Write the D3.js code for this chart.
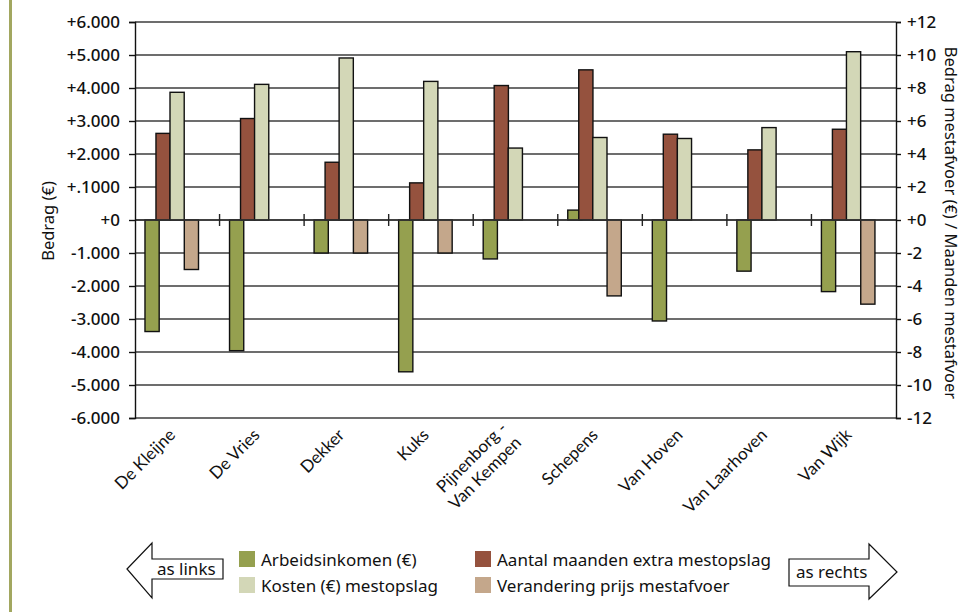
<!DOCTYPE html>
<html>
<head>
<meta charset="utf-8">
<script src="https://cdn.jsdelivr.net/npm/d3@7"></script>
<style>
  html, body { margin: 0; padding: 0; background: #fff; }
  svg { display: block; }
</style>
</head>
<body>
<svg id="chart" width="961" height="612"></svg>
<script>
// ---------------- DATA ----------------
const categories = ["De Kleijne", "De Vries", "Dekker", "Kuks", "Pijnenborg -\nVan Kempen",
                    "Schepens", "Van Hoven", "Van Laarhoven", "Van Wijk"];
const arbeidsinkomen = [-3380, -3960, -1000, -4600, -1180, 300, -3060, -1550, -2170]; // left axis (€)
const kosten         = [3870, 4110, 4910, 4200, 2180, 2500, 2470, 2800, 5100];       // left axis (€)
const maanden        = [5.25, 6.15, 3.5, 2.25, 8.15, 9.1, 5.2, 4.25, 5.5];            // right axis
const prijs          = [-3, 0, -2, -2, 0, -4.6, 0, 0, -5.1];                          // right axis
const leftTicks  = [-6000, -5000, -4000, -3000, -2000, -1000, 0, 1000, 2000, 3000, 4000, 5000, 6000];
const leftLabels = ["-6.000", "-5.000", "-4.000", "-3.000", "-2.000", "-1.000", "+0",
                    "+.1000", "+2.000", "+3.000", "+4.000", "+5.000", "+6.000"];
const rightTicks  = [-12, -10, -8, -6, -4, -2, 0, 2, 4, 6, 8, 10, 12];
const rightLabels = ["-12", "-10", "-8", "-6", "-4", "-2", "+0", "+2", "+4", "+6", "+8", "+10", "+12"];
const seriesNames = ["Arbeidsinkomen (€)", "Aantal maanden extra mestopslag",
                     "Kosten (€) mestopslag", "Verandering prijs mestafvoer"];

// ---------------- STYLE / LAYOUT ----------------
const W = 961, H = 612;
const plot = { left: 135, right: 896, top: 22, bottom: 418 };
const colors = { green: "#95a04f", brown: "#95523e", light: "#d3d7b7", tan: "#c4a78b" };
const font = "'Noto Sans', 'Open Sans', sans-serif";
const xFont = "Lato, 'Open Sans', sans-serif";

const svg = d3.select("#chart");
svg.append("rect").attr("width", W).attr("height", H).attr("fill", "#fff");

// page decoration line at left
svg.append("line").attr("x1", 10.5).attr("x2", 10.5).attr("y1", 0).attr("y2", H)
  .attr("stroke", "#a2a760").attr("stroke-width", 3);

const x = d3.scaleBand().domain(categories).range([plot.left, plot.right]).padding(0);
const yL = d3.scaleLinear().domain([-6000, 6000]).range([plot.bottom, plot.top]);
const yR = d3.scaleLinear().domain([-12, 12]).range([plot.bottom, plot.top]);

// gridlines
svg.append("g").selectAll("line").data(leftTicks).join("line")
  .attr("x1", plot.left).attr("x2", plot.right)
  .attr("y1", d => yL(d)).attr("y2", d => yL(d))
  .attr("stroke", "#3c3c3c").attr("stroke-width", 1.3);

// series definitions (offset & width as fraction of category band)
const series = [
  { values: arbeidsinkomen, scale: yL, color: colors.green, off: 0.118 },
  { values: maanden,        scale: yR, color: colors.brown, off: 0.248 },
  { values: kosten,         scale: yL, color: colors.light, off: 0.414 },
  { values: prijs,          scale: yR, color: colors.tan,   off: 0.583 }
];
const barFrac = 0.168;

series.forEach(s => {
  const data = categories.map((c, i) => ({ c, v: s.values[i] })).filter(d => d.v !== 0);
  svg.append("g").selectAll("rect").data(data).join("rect")
    .attr("x", d => x(d.c) + x.bandwidth() * s.off)
    .attr("width", x.bandwidth() * barFrac)
    .attr("y", d => Math.min(s.scale(d.v), s.scale(0)))
    .attr("height", d => Math.abs(s.scale(d.v) - s.scale(0)))
    .attr("fill", s.color)
    .attr("stroke", "#111").attr("stroke-width", 1.4);
});

// zero line with cross ticks at category boundaries
svg.append("line").attr("x1", plot.left).attr("x2", plot.right)
  .attr("y1", yL(0)).attr("y2", yL(0)).attr("stroke", "#333").attr("stroke-width", 1.4);
svg.append("g").selectAll("line").data(categories.slice(1)).join("line")
  .attr("x1", d => x(d)).attr("x2", d => x(d))
  .attr("y1", yL(0) - 6).attr("y2", yL(0) + 6)
  .attr("stroke", "#222").attr("stroke-width", 1.4);

// left axis
const gL = svg.append("g").attr("transform", `translate(${plot.left},0)`)
  .call(d3.axisLeft(yL).tickValues(leftTicks).tickSize(6).tickPadding(9)
    .tickFormat((d, i) => leftLabels[i]));
gL.select(".domain").attr("stroke", "#111").attr("stroke-width", 1.4);
gL.selectAll(".tick line").attr("stroke", "#111").attr("stroke-width", 1.4);
gL.selectAll(".tick text").attr("font-family", font).attr("font-size", 17)
  .attr("font-weight", 500).attr("fill", "#111");

// right axis
const gR = svg.append("g").attr("transform", `translate(${plot.right},0)`)
  .call(d3.axisRight(yR).tickValues(rightTicks).tickSize(5).tickPadding(6)
    .tickFormat((d, i) => rightLabels[i]));
gR.select(".domain").attr("stroke", "#111").attr("stroke-width", 1.4);
gR.selectAll(".tick line").attr("stroke", "#111").attr("stroke-width", 1.4);
gR.selectAll(".tick text").attr("font-family", font).attr("font-size", 17)
  .attr("font-weight", 500).attr("fill", "#111");

// x labels
const xl = svg.append("g").selectAll("text").data(categories).join("text")
  .attr("transform", d => `translate(${x(d) + x.bandwidth() / 2 - 1},436) rotate(-45)`)
  .attr("text-anchor", "end")
  .attr("font-family", xFont).attr("font-size", 17).attr("fill", "#111");
xl.each(function(d) {
  const lines = d.split("\n");
  const t = d3.select(this);
  lines.forEach((ln, i) => {
    t.append("tspan").attr("x", 0)
      .attr("dy", i === 0 ? `${-(lines.length - 1) * 0.55}em` : "1.2em")
      .text(ln);
  });
});

// axis titles
svg.append("text").attr("transform", "translate(47,221) rotate(-90)")
  .attr("text-anchor", "middle").attr("dominant-baseline", "central")
  .attr("font-family", font).attr("font-size", 16.5).attr("fill", "#111").text("Bedrag (€)");
svg.append("text").attr("transform", "translate(951,223) rotate(90)")
  .attr("text-anchor", "middle").attr("dominant-baseline", "central")
  .attr("font-family", font).attr("font-size", 16.5).attr("fill", "#111")
  .text("Bedrag mestafvoer (€) / Maanden mestafvoer");

// legend
const legendItems = [
  { name: seriesNames[0], color: colors.green, x: 239, y: 551 },
  { name: seriesNames[2], color: colors.light, x: 239, y: 577 },
  { name: seriesNames[1], color: colors.brown, x: 475, y: 551 },
  { name: seriesNames[3], color: colors.tan,   x: 475, y: 577 }
];
const lg = svg.append("g").selectAll("g").data(legendItems).join("g");
lg.append("rect").attr("x", d => d.x).attr("y", d => d.y).attr("width", 16).attr("height", 16)
  .attr("fill", d => d.color);
lg.append("text").attr("x", d => d.x + 22).attr("y", d => d.y + 15)
  .attr("font-family", font).attr("font-size", 17).attr("fill", "#111").text(d => d.name);

// arrows
const leftArrow = [[127,569],[152,543],[152,559],[223,559],[223,579],[152,579],[152,598]];
const rightArrow = [[789,559],[869,559],[869,544],[897,572],[869,599],[869,586],[789,586]];
svg.append("polygon").attr("points", leftArrow.map(p => p.join(",")).join(" "))
  .attr("fill", "#fff").attr("stroke", "#111").attr("stroke-width", 1.2);
svg.append("polygon").attr("points", rightArrow.map(p => p.join(",")).join(" "))
  .attr("fill", "#fff").attr("stroke", "#111").attr("stroke-width", 1.2);
svg.append("text").attr("x", 157).attr("y", 575).attr("font-family", font)
  .attr("font-size", 17).attr("fill", "#111").text("as links");
svg.append("text").attr("x", 796).attr("y", 578).attr("font-family", font)
  .attr("font-size", 17).attr("fill", "#111").text("as rechts");
</script>
</body>
</html>
